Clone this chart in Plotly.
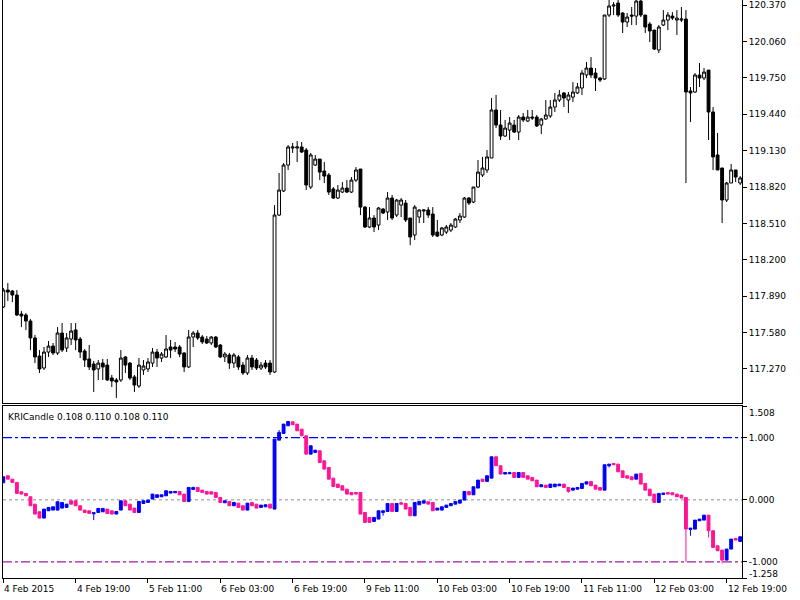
import plotly.graph_objects as go

# ---------------- data ----------------
bar_index = list(range(164))

x_tick_bars = [0, 16, 32, 48, 64, 80, 96, 112, 128, 144, 160]
x_tick_labels = ["4 Feb 2015", "4 Feb 19:00", "5 Feb 11:00", "6 Feb 03:00", "6 Feb 19:00",
                 "9 Feb 11:00", "10 Feb 03:00", "10 Feb 19:00", "11 Feb 11:00",
                 "12 Feb 03:00", "12 Feb 19:00"]

price_ticks = [117.270, 117.580, 117.890, 118.200, 118.510, 118.820,
               119.130, 119.440, 119.750, 120.060, 120.370]

kri_ticks = [-1.0, 0.0, 1.0]
kri_edges = [-1.258, 1.508]
kri_levels = [1.0, 0.0, -1.0]

price_open = [117.798, 117.942, 117.934, 117.900, 117.738, 117.730, 117.678, 117.534, 117.380, 117.278,
              117.414, 117.465, 117.406, 117.576, 117.448, 117.525, 117.602, 117.525, 117.423, 117.355,
              117.312, 117.270, 117.320, 117.303, 117.193, 117.176, 117.176, 117.372, 117.320, 117.202,
              117.125, 117.261, 117.270, 117.320, 117.414, 117.363, 117.372, 117.457, 117.457, 117.457,
              117.406, 117.287, 117.542, 117.576, 117.542, 117.525, 117.491, 117.542, 117.474, 117.372,
              117.389, 117.320, 117.372, 117.303, 117.236, 117.363, 117.346, 117.278, 117.320, 117.320,
              117.244, 118.581, 118.786, 119.007, 119.152, 119.152, 119.161, 119.135, 118.820, 119.007,
              119.058, 118.956, 118.922, 118.803, 118.726, 118.777, 118.811, 118.777, 118.879, 118.973,
              118.649, 118.479, 118.556, 118.496, 118.632, 118.607, 118.726, 118.581, 118.666, 118.683,
              118.556, 118.411, 118.564, 118.615, 118.624, 118.590, 118.436, 118.411, 118.436, 118.453,
              118.479, 118.539, 118.564, 118.726, 118.692, 118.820, 118.922, 118.965, 119.067, 119.476,
              119.348, 119.254, 119.305, 119.348, 119.288, 119.416, 119.382, 119.416, 119.416, 119.348,
              119.399, 119.425, 119.501, 119.561, 119.621, 119.561, 119.586, 119.621, 119.663, 119.774,
              119.833, 119.791, 119.748, 119.740, 120.285, 120.362, 120.387, 120.302, 120.225, 120.285,
              120.276, 120.404, 120.285, 120.208, 120.157, 119.987, 120.200, 120.242, 120.276, 120.242,
              120.242, 120.251, 119.638, 119.629, 119.774, 119.748, 119.816, 119.459, 119.093, 118.982,
              118.709, 118.854, 118.965, 118.854]

price_high = [117.959, 118.002, 117.942, 117.942, 117.764, 117.746, 117.695, 117.559, 117.431, 117.457,
              117.508, 117.491, 117.627, 117.661, 117.576, 117.661, 117.661, 117.542, 117.440, 117.474,
              117.338, 117.346, 117.355, 117.355, 117.219, 117.193, 117.431, 117.380, 117.329, 117.219,
              117.363, 117.346, 117.363, 117.448, 117.440, 117.414, 117.559, 117.517, 117.500, 117.474,
              117.414, 117.602, 117.593, 117.602, 117.559, 117.550, 117.550, 117.550, 117.482, 117.414,
              117.406, 117.406, 117.389, 117.329, 117.389, 117.389, 117.363, 117.329, 117.346, 117.346,
              118.666, 118.939, 119.024, 119.178, 119.195, 119.212, 119.203, 119.152, 119.110, 119.093,
              119.058, 119.033, 118.939, 118.820, 118.837, 118.862, 118.879, 118.905, 118.990, 118.973,
              118.658, 118.649, 118.581, 118.649, 118.641, 118.777, 118.752, 118.718, 118.726, 118.709,
              118.556, 118.666, 118.632, 118.632, 118.649, 118.649, 118.539, 118.479, 118.496, 118.513,
              118.556, 118.598, 118.735, 118.735, 118.820, 119.050, 119.076, 119.135, 119.578, 119.604,
              119.476, 119.391, 119.416, 119.391, 119.433, 119.450, 119.476, 119.476, 119.433, 119.408,
              119.561, 119.561, 119.621, 119.646, 119.629, 119.629, 119.714, 119.706, 119.816, 119.885,
              119.927, 119.833, 119.757, 120.285, 120.413, 120.396, 120.413, 120.310, 120.302, 120.353,
              120.430, 120.420, 120.285, 120.225, 120.157, 120.200, 120.327, 120.310, 120.310, 120.327,
              120.353, 120.327, 119.672, 119.791, 119.876, 119.833, 119.816, 119.501, 119.280, 118.982,
              118.862, 119.016, 118.965, 118.913]

price_low = [117.789, 117.849, 117.840, 117.721, 117.627, 117.602, 117.431, 117.320, 117.236, 117.261,
             117.372, 117.389, 117.389, 117.414, 117.414, 117.474, 117.431, 117.363, 117.287, 117.261,
             117.074, 117.176, 117.176, 117.168, 117.116, 117.023, 117.159, 117.236, 117.176, 117.074,
             117.108, 117.219, 117.244, 117.287, 117.287, 117.329, 117.363, 117.363, 117.414, 117.372,
             117.244, 117.278, 117.457, 117.517, 117.482, 117.482, 117.474, 117.448, 117.363, 117.329,
             117.270, 117.278, 117.261, 117.219, 117.219, 117.261, 117.261, 117.261, 117.270, 117.219,
             117.236, 118.573, 118.777, 118.965, 119.110, 119.033, 119.110, 118.794, 118.803, 118.999,
             118.879, 118.854, 118.752, 118.718, 118.718, 118.769, 118.769, 118.769, 118.862, 118.581,
             118.471, 118.471, 118.436, 118.453, 118.590, 118.539, 118.539, 118.564, 118.564, 118.522,
             118.325, 118.368, 118.513, 118.513, 118.556, 118.394, 118.394, 118.402, 118.419, 118.436,
             118.471, 118.513, 118.556, 118.666, 118.683, 118.811, 118.905, 118.939, 119.067, 119.322,
             119.220, 119.246, 119.220, 119.280, 119.220, 119.374, 119.374, 119.391, 119.331, 119.271,
             119.391, 119.408, 119.459, 119.544, 119.501, 119.450, 119.544, 119.612, 119.604, 119.748,
             119.748, 119.638, 119.714, 119.731, 120.268, 120.285, 120.268, 120.132, 120.183, 120.200,
             120.200, 120.268, 120.132, 120.055, 119.987, 119.961, 120.191, 120.157, 120.242, 120.115,
             120.225, 118.854, 119.374, 119.621, 119.672, 119.731, 119.220, 118.965, 118.965, 118.513,
             118.692, 118.854, 118.862, 118.837]

price_close = [117.942, 117.925, 117.900, 117.730, 117.721, 117.678, 117.534, 117.372, 117.270, 117.414,
               117.465, 117.406, 117.576, 117.431, 117.534, 117.593, 117.517, 117.414, 117.346, 117.287,
               117.261, 117.320, 117.287, 117.176, 117.168, 117.159, 117.363, 117.303, 117.193, 117.133,
               117.303, 117.295, 117.329, 117.414, 117.363, 117.397, 117.440, 117.431, 117.440, 117.397,
               117.287, 117.542, 117.576, 117.534, 117.500, 117.491, 117.542, 117.457, 117.372, 117.397,
               117.320, 117.389, 117.287, 117.236, 117.363, 117.287, 117.278, 117.303, 117.287, 117.244,
               118.581, 118.794, 119.007, 119.161, 119.161, 119.161, 119.118, 118.837, 119.093, 119.058,
               118.947, 118.913, 118.777, 118.726, 118.794, 118.811, 118.777, 118.879, 118.965, 118.649,
               118.479, 118.556, 118.479, 118.641, 118.598, 118.726, 118.556, 118.709, 118.709, 118.539,
               118.394, 118.649, 118.624, 118.624, 118.581, 118.411, 118.402, 118.471, 118.479, 118.496,
               118.547, 118.573, 118.726, 118.683, 118.820, 118.947, 118.982, 119.076, 119.476, 119.348,
               119.254, 119.322, 119.365, 119.288, 119.416, 119.391, 119.416, 119.408, 119.340, 119.399,
               119.433, 119.501, 119.561, 119.604, 119.578, 119.604, 119.629, 119.672, 119.791, 119.833,
               119.774, 119.748, 119.731, 120.285, 120.362, 120.370, 120.285, 120.225, 120.268, 120.276,
               120.404, 120.285, 120.183, 120.149, 119.995, 120.183, 120.242, 120.285, 120.259, 120.259,
               120.251, 119.629, 119.621, 119.774, 119.748, 119.799, 119.459, 119.076, 118.965, 118.709,
               118.854, 118.965, 118.905, 118.897]

kri_open = [0.273, 0.386, 0.332, 0.279, 0.129, 0.102, 0.048, -0.070, -0.193, -0.295,
            -0.177, -0.166, -0.166, -0.134, -0.123, -0.016, -0.016, -0.096, -0.166, -0.177,
            -0.225, -0.204, -0.193, -0.150, -0.177, -0.230, -0.166, -0.016, -0.070, -0.134,
            -0.204, -0.059, -0.043, 0.011, 0.038, 0.048, 0.064, 0.107, 0.113, 0.134,
            0.091, -0.027, 0.166, 0.198, 0.155, 0.134, 0.129, 0.118, 0.038, -0.048,
            -0.027, -0.096, -0.054, -0.096, -0.166, -0.043, -0.070, -0.123, -0.113, -0.070,
            -0.150, 0.959, 1.066, 1.190, 1.254, 1.217, 1.136, 1.029, 0.734, 0.761,
            0.788, 0.627, 0.520, 0.348, 0.252, 0.225, 0.171, 0.118, 0.118, 0.118,
            -0.204, -0.284, -0.348, -0.311, -0.204, -0.188, -0.059, -0.188, -0.048, -0.059,
            -0.123, -0.257, -0.080, -0.054, -0.032, -0.043, -0.166, -0.166, -0.123, -0.096,
            -0.070, -0.054, -0.005, 0.134, 0.080, 0.188, 0.332, 0.295, 0.348, 0.691,
            0.547, 0.413, 0.418, 0.439, 0.359, 0.439, 0.386, 0.359, 0.316, 0.209,
            0.236, 0.198, 0.209, 0.225, 0.252, 0.198, 0.155, 0.171, 0.182, 0.252,
            0.295, 0.236, 0.198, 0.155, 0.547, 0.584, 0.573, 0.466, 0.386, 0.370,
            0.332, 0.423, 0.263, 0.171, 0.091, -0.043, 0.086, 0.118, 0.113, 0.091,
            0.075, 0.038, -0.477, -0.472, -0.338, -0.327, -0.247, -0.498, -0.740, -0.809,
            -0.970, -0.793, -0.622, -0.670]

kri_high = [0.370, 0.386, 0.332, 0.279, 0.129, 0.102, 0.048, -0.070, -0.193, -0.150,
            -0.123, -0.113, -0.032, -0.043, -0.070, -0.016, -0.016, -0.096, -0.166, -0.177,
            -0.209, -0.139, -0.139, -0.150, -0.177, -0.188, -0.016, -0.016, -0.070, -0.134,
            -0.027, -0.016, -0.005, 0.091, 0.080, 0.080, 0.145, 0.134, 0.134, 0.134,
            0.091, 0.198, 0.209, 0.198, 0.155, 0.134, 0.129, 0.118, 0.038, -0.016,
            -0.027, -0.043, -0.054, -0.096, -0.054, -0.043, -0.070, -0.086, -0.080, -0.070,
            0.975, 1.120, 1.217, 1.259, 1.254, 1.217, 1.136, 1.029, 0.868, 0.798,
            0.788, 0.627, 0.520, 0.348, 0.252, 0.225, 0.171, 0.118, 0.118, 0.118,
            -0.204, -0.284, -0.284, -0.177, -0.177, -0.059, -0.059, -0.059, -0.030, -0.059,
            -0.123, -0.043, -0.027, -0.016, -0.032, -0.043, -0.134, -0.113, -0.086, -0.059,
            -0.027, -0.005, 0.134, 0.134, 0.209, 0.316, 0.332, 0.386, 0.691, 0.691,
            0.547, 0.439, 0.450, 0.439, 0.439, 0.439, 0.386, 0.359, 0.316, 0.252,
            0.236, 0.252, 0.252, 0.252, 0.252, 0.198, 0.188, 0.198, 0.263, 0.289,
            0.295, 0.236, 0.198, 0.563, 0.573, 0.584, 0.573, 0.466, 0.386, 0.370,
            0.413, 0.423, 0.263, 0.171, 0.091, 0.102, 0.107, 0.118, 0.113, 0.091,
            0.075, 0.038, -0.456, -0.327, -0.311, -0.247, -0.247, -0.498, -0.740, -0.809,
            -0.793, -0.632, -0.622, -0.595]

kri_low = [0.273, 0.332, 0.279, 0.102, 0.091, 0.064, -0.096, -0.230, -0.295, -0.295,
           -0.177, -0.166, -0.166, -0.134, -0.123, -0.070, -0.096, -0.166, -0.204, -0.220,
           -0.327, -0.204, -0.193, -0.220, -0.230, -0.230, -0.166, -0.096, -0.166, -0.204,
           -0.204, -0.059, -0.043, 0.011, 0.038, 0.048, 0.064, 0.107, 0.113, 0.080,
           -0.027, -0.027, 0.166, 0.134, 0.118, 0.091, 0.091, 0.038, -0.043, -0.048,
           -0.096, -0.096, -0.123, -0.166, -0.166, -0.096, -0.134, -0.123, -0.113, -0.134,
           -0.150, 0.959, 1.066, 1.190, 1.206, 1.109, 1.029, 0.734, 0.734, 0.761,
           0.600, 0.493, 0.332, 0.214, 0.198, 0.155, 0.091, 0.080, 0.091, -0.230,
           -0.364, -0.364, -0.348, -0.311, -0.257, -0.188, -0.188, -0.188, -0.070, -0.150,
           -0.257, -0.257, -0.080, -0.054, -0.070, -0.177, -0.166, -0.166, -0.123, -0.096,
           -0.070, -0.054, -0.005, 0.080, 0.080, 0.188, 0.295, 0.295, 0.348, 0.547,
           0.413, 0.413, 0.418, 0.359, 0.359, 0.359, 0.332, 0.305, 0.209, 0.209,
           0.198, 0.198, 0.209, 0.225, 0.198, 0.113, 0.155, 0.171, 0.182, 0.252,
           0.225, 0.171, 0.155, 0.155, 0.520, 0.563, 0.450, 0.359, 0.348, 0.322,
           0.332, 0.252, 0.155, 0.064, -0.043, -0.043, 0.086, 0.091, 0.080, 0.048,
           0.027, -0.997, -0.579, -0.472, -0.338, -0.327, -0.606, -0.766, -0.820, -1.024,
           -0.970, -0.793, -0.648, -0.670]

kri_close = [0.370, 0.332, 0.279, 0.102, 0.091, 0.064, -0.096, -0.230, -0.295, -0.150,
             -0.123, -0.113, -0.032, -0.043, -0.070, -0.070, -0.096, -0.166, -0.204, -0.220,
             -0.209, -0.139, -0.139, -0.220, -0.230, -0.188, -0.016, -0.096, -0.166, -0.204,
             -0.027, -0.016, -0.005, 0.091, 0.080, 0.080, 0.145, 0.134, 0.134, 0.080,
             -0.027, 0.198, 0.198, 0.134, 0.118, 0.091, 0.091, 0.038, -0.043, -0.016,
             -0.096, -0.043, -0.123, -0.166, -0.054, -0.096, -0.134, -0.086, -0.080, -0.134,
             0.975, 1.083, 1.217, 1.259, 1.206, 1.109, 1.029, 0.734, 0.868, 0.798,
             0.600, 0.493, 0.332, 0.214, 0.198, 0.155, 0.091, 0.080, 0.091, -0.230,
             -0.364, -0.364, -0.284, -0.177, -0.177, -0.059, -0.188, -0.059, -0.070, -0.150,
             -0.257, -0.043, -0.027, -0.016, -0.070, -0.177, -0.134, -0.113, -0.086, -0.059,
             -0.027, -0.005, 0.134, 0.080, 0.209, 0.316, 0.295, 0.386, 0.691, 0.547,
             0.413, 0.439, 0.434, 0.359, 0.439, 0.359, 0.332, 0.305, 0.209, 0.241,
             0.198, 0.252, 0.252, 0.252, 0.198, 0.134, 0.188, 0.198, 0.263, 0.289,
             0.225, 0.171, 0.155, 0.563, 0.573, 0.563, 0.450, 0.359, 0.348, 0.322,
             0.413, 0.252, 0.155, 0.064, -0.043, 0.102, 0.107, 0.091, 0.080, 0.048,
             0.027, -0.472, -0.456, -0.327, -0.311, -0.247, -0.498, -0.766, -0.820, -0.970,
             -0.793, -0.632, -0.648, -0.595]

indicator_title = "KRICandle 0.108 0.110 0.108 0.110"

# ---------------- figure ----------------
W, H = 800, 600
x_dom = [3 / W, 742 / W]
top_dom = [1 - 403 / H, 1.0]
bot_dom = [1 - 578 / H, 1 - 406 / H]
x_range = [-0.07, 163.4]

FONT = "DejaVu Sans"

fig = go.Figure()
fig.add_trace(go.Candlestick(
    x=bar_index, open=price_open, high=price_high, low=price_low, close=price_close,
    xaxis="x", yaxis="y",
    increasing=dict(line=dict(color="black", width=1), fillcolor="white"),
    decreasing=dict(line=dict(color="black", width=1), fillcolor="black"),
    whiskerwidth=0, hoverinfo="skip", showlegend=False))

fig.add_trace(go.Candlestick(
    x=bar_index, open=kri_open, high=kri_high, low=kri_low, close=kri_close,
    xaxis="x2", yaxis="y2",
    increasing=dict(line=dict(color="#0000FF", width=1), fillcolor="#0000FF"),
    decreasing=dict(line=dict(color="#FF1493", width=1), fillcolor="#FF1493"),
    whiskerwidth=0, hoverinfo="skip", showlegend=False))

level_styles = {1.0: ("#0000FF", "9px,3px,3px,3px"),
                0.0: ("#B4B4B4", "3px,3px"),
                -1.0: ("#9A1E9A", "9px,3px,3px,3px")}
for lv in kri_levels:
    col, dash = level_styles[lv]
    fig.add_shape(type="line", xref="x2 domain", yref="y2", x0=0, x1=1, y0=lv, y1=lv,
                  line=dict(color=col, width=1.3, dash=dash), layer="below")

axis_common = dict(showgrid=False, zeroline=False, showline=True, linecolor="black",
                   linewidth=1, mirror=True)

fig.update_layout(
    width=W, height=H, autosize=False,
    margin=dict(l=0, r=0, t=0, b=0),
    paper_bgcolor="white", plot_bgcolor="white",
    font=dict(family=FONT, size=9, color="black"),
    boxgap=0.3, boxgroupgap=0.1,
    xaxis=dict(domain=x_dom, range=x_range, anchor="y", showticklabels=False, ticks="",
               rangeslider=dict(visible=False), fixedrange=True, **axis_common),
    yaxis=dict(domain=top_dom, range=[116.980, 120.413], anchor="x", side="right",
               tickmode="array", tickvals=price_ticks,
               ticktext=[f"{v:.3f}" for v in price_ticks],
               ticks="outside", ticklen=4, tickcolor="black", **axis_common),
    xaxis2=dict(domain=x_dom, range=x_range, anchor="y2", showticklabels=False,
                tickmode="array", tickvals=x_tick_bars, ticks="outside", ticklen=4,
                tickcolor="black", rangeslider=dict(visible=False), **axis_common),
    yaxis2=dict(domain=bot_dom, range=[kri_edges[0], kri_edges[1]], anchor="x2", side="right",
                tickmode="array", tickvals=kri_ticks + kri_edges,
                ticktext=[f"{v:.3f}" for v in kri_ticks] + ["", ""],
                ticks="outside", ticklen=4, tickcolor="black", **axis_common),
)

ann = []
for b, lab in zip(x_tick_bars, x_tick_labels):
    ann.append(dict(x=b, xref="x2", y=1 - 589 / H, yref="paper", text=lab, showarrow=False,
                    xanchor="left", yanchor="middle", xshift=-1,
                    font=dict(family=FONT, size=9, color="black")))
ann.append(dict(x=747 / W, xref="paper", y=kri_edges[1], yref="y2", text=f"{kri_edges[1]:.3f}",
                showarrow=False, xanchor="left", yanchor="top",
                font=dict(family=FONT, size=9, color="black")))
ann.append(dict(x=747 / W, xref="paper", y=kri_edges[0], yref="y2", text=f"{kri_edges[0]:.3f}",
                showarrow=False, xanchor="left", yanchor="bottom", yshift=-3,
                font=dict(family=FONT, size=9, color="black")))
ann.append(dict(x=6 / W, xref="paper", y=1 - 417 / H, yref="paper", text=indicator_title,
                showarrow=False, xanchor="left", yanchor="middle",
                font=dict(family=FONT, size=9, color="black")))
fig.update_layout(annotations=ann)

fig.write_html("out.html", config={"displayModeBar": False},
               post_script="document.body.style.margin='0px';document.body.style.overflow='hidden';")
